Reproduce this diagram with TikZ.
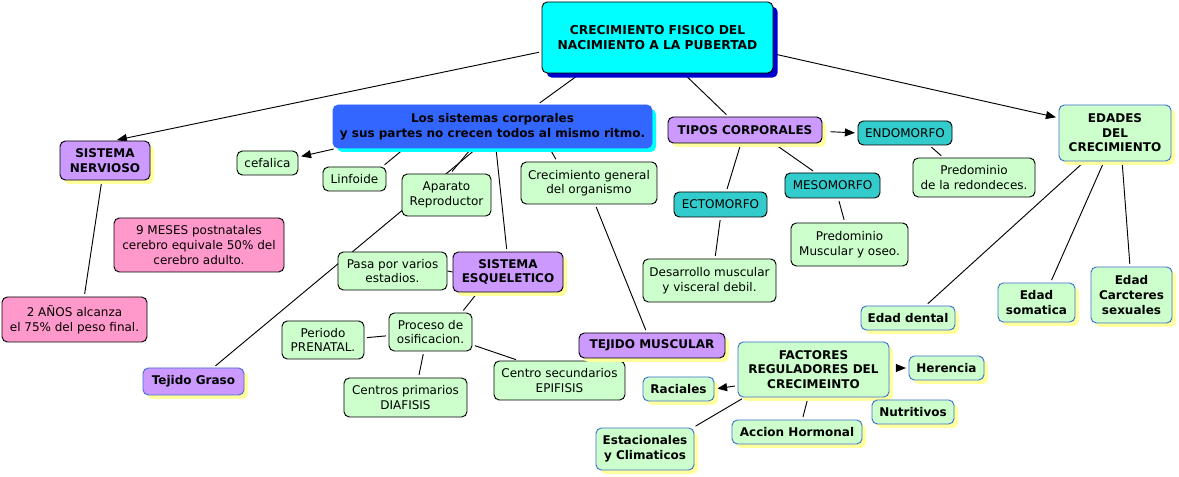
\documentclass[tikz,border=0pt]{standalone}
\usepackage{fontspec}
\setmainfont{DejaVu Sans}
\usetikzlibrary{arrows.meta,shadows,backgrounds}
\definecolor{mapcyan}{HTML}{00FFFF}
\definecolor{mapnavy}{HTML}{0000CC}
\definecolor{mapblue}{HTML}{3366FF}
\definecolor{mapgreen}{HTML}{CCFFCC}
\definecolor{mappurple}{HTML}{CC99FF}
\definecolor{mapteal}{HTML}{33CCCC}
\definecolor{mappink}{HTML}{FF99CC}
\definecolor{mapedge}{HTML}{3F6FCF}
\definecolor{mapshadow}{HTML}{FFFF9E}
\tikzset{
  mapbox/.style={draw, rounded corners=4pt, line width=0.7pt, align=center,
    font=\fontsize{9}{10.9}\selectfont, inner xsep=2pt, inner ysep=1pt},
  boxsize/.style 2 args={minimum width=#1*0.75pt, minimum height=#2*0.75pt},
  yshadow/.style={drop shadow={shadow xshift=3pt, shadow yshift=-3pt, fill=mapshadow, opacity=1}},
  greenbox/.style={mapbox, fill=mapgreen},
  greenbold/.style={mapbox, fill=mapgreen, draw=mapedge, font=\fontsize{9}{10.9}\selectfont\bfseries, yshadow},
  purplebox/.style={mapbox, fill=mappurple, font=\fontsize{9}{10.9}\selectfont\bfseries, yshadow},
  tealbox/.style={mapbox, fill=mapteal},
  pinkbox/.style={mapbox, fill=mappink},
  mapline/.style={line width=0.7pt, shorten <=2pt, shorten >=2pt},
  maparrow/.style={mapline, -{Triangle[length=7.5pt,width=6pt]}},
}

\begin{document}
\begin{tikzpicture}[x=0.75pt, y=-0.75pt]
  \useasboundingbox (0,0) rectangle (1179,477);
  % centro
  \node[mapbox, fill=mapcyan, font=\fontsize{9.2}{11}\selectfont\bfseries, boxsize={231}{71},
    drop shadow={shadow xshift=3.5pt, shadow yshift=-3.5pt, fill=mapnavy, opacity=1}] (main) at (657.5,37.5)
    {CRECIMIENTO FISICO DEL\\NACIMIENTO A LA PUBERTAD};
  \node[mapbox, fill=mapblue, draw=mapblue, font=\fontsize{9}{10.9}\selectfont\bfseries, boxsize={319}{43},
    drop shadow={shadow xshift=3pt, shadow yshift=-3pt, fill=mapcyan, opacity=1}] (sis) at (492.5,126.5)
    {Los sistemas corporales\\y sus partes no crecen todos al mismo ritmo.};
  % sistemas
  \node[purplebox, boxsize={90}{39}] (nerv) at (105,160.5) {SISTEMA\\NERVIOSO};
  \node[pinkbox, boxsize={170}{54}] (nueve) at (199,245) {9 MESES postnatales\\cerebro equivale 50\% del\\cerebro adulto.};
  \node[pinkbox, boxsize={145}{45}] (dos) at (74.5,319.5) {2 AÑOS alcanza\\el 75\% del peso final.};
  \node[greenbox, boxsize={61}{24}] (cef) at (267.5,163) {cefalica};
  \node[greenbox, boxsize={63}{24}] (linf) at (354.5,179) {Linfoide};
  \node[greenbox, boxsize={89}{42}] (apar) at (446.5,195) {Aparato\\Reproductor};
  \node[greenbox, boxsize={136}{42}] (crec) at (589,183) {Crecimiento general\\del organismo};
  \node[greenbox, boxsize={109}{38}] (pasa) at (392.5,271) {Pasa por varios\\estadios.};
  \node[purplebox, boxsize={110}{40}] (esq) at (508,272) {SISTEMA\\ESQUELETICO};
  \node[greenbox, boxsize={82}{38}] (peri) at (323,340) {Periodo\\PRENATAL.};
  \node[greenbox, boxsize={83}{38}] (proc) at (430.5,332) {Proceso de\\osificacion.};
  \node[purplebox, draw=mapedge, boxsize={101}{27}] (graso) at (193.5,381.5) {Tejido Graso};
  \node[greenbox, boxsize={123}{39}] (cprim) at (405.5,397.5) {Centros primarios\\DIAFISIS};
  \node[greenbox, boxsize={131}{39}] (csec) at (559.5,380.5) {Centro secundarios\\EPIFISIS};
  \node[purplebox, boxsize={146}{25}] (musc) at (652,345.5) {TEJIDO MUSCULAR};
  % tipos corporales
  \node[purplebox, boxsize={154}{26}] (tipos) at (745,130) {TIPOS CORPORALES};
  \node[tealbox, boxsize={94}{24}] (endo) at (905,133) {ENDOMORFO};
  \node[greenbox, boxsize={122}{39}] (redon) at (974,177.5) {Predominio\\de la redondeces.};
  \node[tealbox, boxsize={93}{25}] (ecto) at (720.5,204.5) {ECTOMORFO};
  \node[tealbox, boxsize={95}{25}] (meso) at (832.5,185.5) {MESOMORFO};
  \node[greenbox, boxsize={117}{43}] (predm) at (849.5,244.5) {Predominio\\Muscular y oseo.};
  \node[greenbox, boxsize={133}{43}] (desa) at (709.5,280.5) {Desarrollo muscular\\y visceral debil.};
  % edades
  \node[greenbold, boxsize={112}{56}] (edades) at (1115,133) {EDADES\\DEL\\CRECIMIENTO};
  \node[greenbold, boxsize={94}{24}] (dent) at (908,318) {Edad dental};
  \node[greenbold, boxsize={77}{39}] (soma) at (1036.5,302.5) {Edad\\somatica};
  \node[greenbold, boxsize={81}{56}] (carc) at (1131.5,295) {Edad\\Carcteres\\sexuales};
  % factores
  \node[greenbold, boxsize={151}{55}] (fact) at (813.5,369.5) {FACTORES\\REGULADORES DEL\\CRECIMEINTO};
  \node[greenbold, boxsize={75}{24}] (here) at (946.5,368) {Herencia};
  \node[greenbold, boxsize={71}{24}] (raci) at (678.5,389) {Raciales};
  \node[greenbold, boxsize={82}{24}] (nutr) at (913,412) {Nutritivos};
  \node[greenbold, boxsize={130}{24}] (acci) at (797,432) {Accion Hormonal};
  \node[greenbold, boxsize={98}{42}] (esta) at (645,449) {Estacionales\\y Climaticos};
  % conectores
  \begin{scope}[on background layer]
    \draw[maparrow] (main.187) -- (nerv.65);
    \draw[maparrow] (main.-8) -- (edades.165);
    \draw[mapline] (main.205) -- (sis.26);
    \draw[mapline] (main.-54) -- (tipos.141);
    \draw[maparrow] (sis.188) -- (cef.11);
    \draw[mapline] (sis.194) -- (linf.24);
    \draw[mapline] (sis.226) -- (apar.80);
    \draw[mapline] (sis.234) -- (graso.35);
    \draw[mapline] (sis.-81) -- (esq.93);
    \draw[mapline] (sis.-21) -- (crec.146);
    \draw[mapline] (crec.-74) -- (musc.112);
    \draw[mapline, shorten <=0pt, shorten >=0pt] (esq.west) -- (pasa.east);
    \draw[mapline] (esq.214) -- (proc.32);
    \draw[mapline] (proc.185) -- (peri.3);
    \draw[mapline] (proc.251) -- (cprim.57);
    \draw[mapline] (proc.-17) -- (csec.154);
    \draw[mapline] (nerv.-99) -- (dos.67);
    \draw[maparrow, shorten <=6pt] (tipos.-1) -- (endo.west);
    \draw[mapline] (tipos.253) -- (ecto.66);
    \draw[mapline] (tipos.-25) -- (meso.143);
    \draw[mapline] (meso.-66) -- (predm.102);
    \draw[mapline] (ecto.south) -- (desa.76);
    \draw[mapline] (endo.-27) -- (redon.147);
    \draw[mapline] (edades.223) -- (dent.35);
    \draw[mapline] (edades.249) -- (soma.55);
    \draw[mapline] (edades.-76) -- (carc.93);
    \draw[maparrow, shorten <=5pt] (fact.east |- here.west) -- (here.west);
    \draw[maparrow] (fact.192) -- (raci.east);
    \draw[mapline] (fact.202) -- (esta.24);
    \draw[mapline] (fact.259) -- (acci.67);
  \end{scope}
\end{tikzpicture}
\end{document}
